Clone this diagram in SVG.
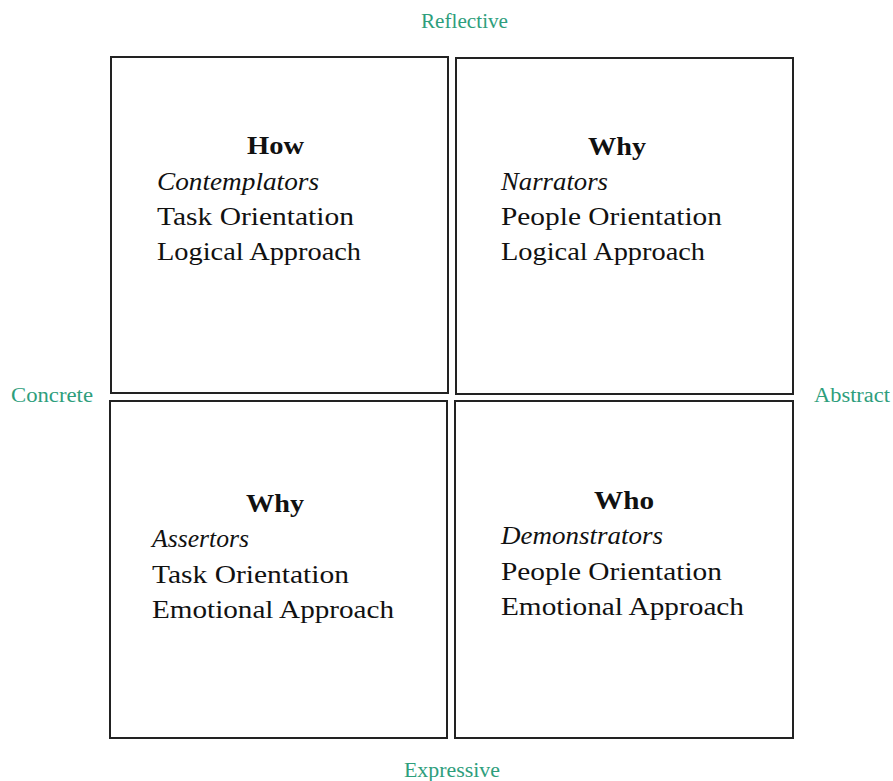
<svg xmlns="http://www.w3.org/2000/svg" width="893" height="781" viewBox="0 0 893 781">
<style>
.box{fill:#fff;stroke:#222;stroke-width:2}
.t{font-family:"Liberation Serif",serif;font-size:26px;fill:#111}
.h{font-weight:bold}
.i{font-style:italic}
.ax{font-family:"Liberation Serif",serif;font-size:20px;fill:#2e9e7c}
</style>
<rect width="893" height="781" fill="#fff"/>
<g id="axes">
<text class="ax" x="421" y="28" textLength="87" lengthAdjust="spacingAndGlyphs">Reflective</text>
<text class="ax" x="11" y="402" textLength="82" lengthAdjust="spacingAndGlyphs">Concrete</text>
<text class="ax" x="814" y="402" textLength="76" lengthAdjust="spacingAndGlyphs">Abstract</text>
<text class="ax" x="404" y="777" textLength="96" lengthAdjust="spacingAndGlyphs">Expressive</text>
</g>
<g id="connectors"></g>
<g id="how">
<rect class="box" x="111" y="57" width="337" height="336"/>
<text class="t h" x="247" y="154" textLength="57" lengthAdjust="spacingAndGlyphs">How</text>
<text class="t i" x="157" y="190" textLength="162" lengthAdjust="spacingAndGlyphs">Contemplators</text>
<text class="t" x="157" y="225" textLength="197" lengthAdjust="spacingAndGlyphs">Task Orientation</text>
<text class="t" x="157" y="260" textLength="204" lengthAdjust="spacingAndGlyphs">Logical Approach</text>
</g>
<g id="why-narrators">
<rect class="box" x="456" y="58" width="337" height="336"/>
<text class="t h" x="588" y="155" textLength="58" lengthAdjust="spacingAndGlyphs">Why</text>
<text class="t i" x="501" y="190" textLength="107" lengthAdjust="spacingAndGlyphs">Narrators</text>
<text class="t" x="501" y="225" textLength="221" lengthAdjust="spacingAndGlyphs">People Orientation</text>
<text class="t" x="501" y="260" textLength="204" lengthAdjust="spacingAndGlyphs">Logical Approach</text>
</g>
<g id="why-assertors">
<rect class="box" x="110" y="401" width="337" height="337"/>
<text class="t h" x="246" y="512" textLength="58" lengthAdjust="spacingAndGlyphs">Why</text>
<text class="t i" x="152" y="547" textLength="97" lengthAdjust="spacingAndGlyphs">Assertors</text>
<text class="t" x="152" y="583" textLength="197" lengthAdjust="spacingAndGlyphs">Task Orientation</text>
<text class="t" x="152" y="618" textLength="242" lengthAdjust="spacingAndGlyphs">Emotional Approach</text>
</g>
<g id="who">
<rect class="box" x="455" y="401" width="338" height="337"/>
<text class="t h" x="594" y="509" textLength="60" lengthAdjust="spacingAndGlyphs">Who</text>
<text class="t i" x="501" y="544" textLength="162" lengthAdjust="spacingAndGlyphs">Demonstrators</text>
<text class="t" x="501" y="580" textLength="221" lengthAdjust="spacingAndGlyphs">People Orientation</text>
<text class="t" x="501" y="615" textLength="243" lengthAdjust="spacingAndGlyphs">Emotional Approach</text>
</g>
</svg>
